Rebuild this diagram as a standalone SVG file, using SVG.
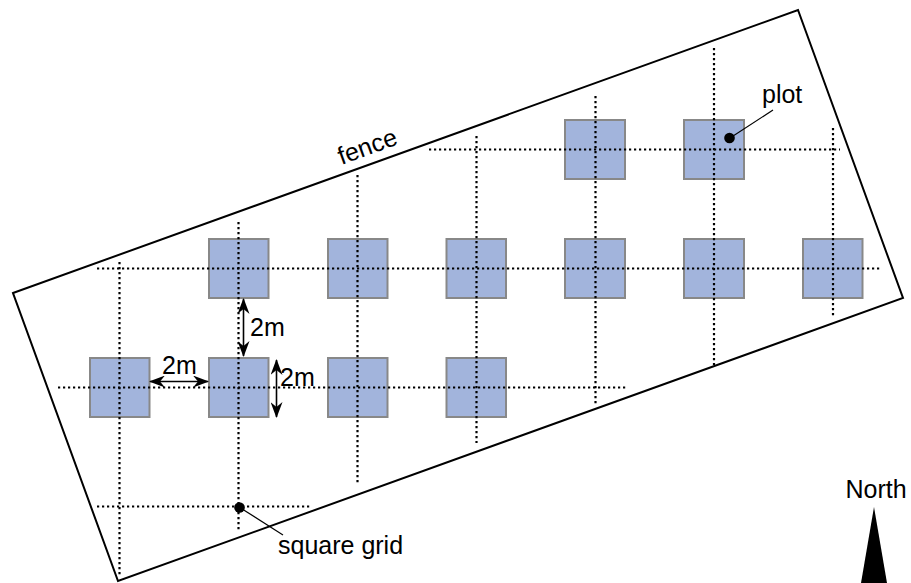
<svg xmlns="http://www.w3.org/2000/svg" width="911" height="583" viewBox="0 0 911 583">
<style>
text{font-family:"Liberation Sans",Arial,sans-serif;font-size:25px;fill:#000}
.plot{fill:#a2b4dc;stroke:#888;stroke-width:2}
.grid{fill:none;stroke:#000;stroke-width:2.2;stroke-dasharray:2.200 2.800}
.lead{fill:none;stroke:#000;stroke-width:1.2}
.dim{fill:none;stroke:#000;stroke-width:1.6;marker-start:url(#h);marker-end:url(#h)}
</style>
<defs>
<marker id="h" viewBox="0 0 16 12" refX="15" refY="6" markerWidth="16" markerHeight="12" markerUnits="userSpaceOnUse" orient="auto-start-reverse"><path d="M0 0L16 6L0 12L5 6Z" fill="#000"/></marker>
</defs>
<g id="fence"><polygon points="13,293 798,10 903,298 118,581" fill="#fff" stroke="#000" stroke-width="2"/></g>
<g id="plots">
<rect class="plot" x="565" y="120" width="60" height="59"/>
<rect class="plot" x="684" y="120" width="60" height="59"/>
<rect class="plot" x="209" y="239" width="59.500" height="59"/>
<rect class="plot" x="328" y="239" width="59.500" height="59"/>
<rect class="plot" x="446.500" y="239" width="59.500" height="59"/>
<rect class="plot" x="565" y="239" width="60" height="59"/>
<rect class="plot" x="684" y="239" width="60" height="59"/>
<rect class="plot" x="803" y="239" width="59.500" height="59"/>
<rect class="plot" x="90" y="358" width="59.500" height="59"/>
<rect class="plot" x="209" y="358" width="59.500" height="59"/>
<rect class="plot" x="328" y="358" width="59.500" height="59"/>
<rect class="plot" x="446.500" y="358" width="59.500" height="59"/>
</g>
<g id="connectors">
<path class="grid" d="M429 149.500H840M97 268.500H881M58 387.500H627M97 506.500H311"/>
<path class="grid" d="M119.500 262V575M238.500 222V530M357.500 175V483M476.500 136V443M595.500 96V404M714 48V365M833 128V318"/>
<path class="dim" d="M150 381.500H208"/>
<path class="dim" d="M243.500 299V356"/>
<path class="dim" d="M276.500 360V417"/>
<path class="lead" d="M730 138L773 110"/>
<path class="lead" d="M239 507L283 535"/>
</g>
<g id="plot-marker"><circle cx="729.500" cy="138" r="5.300"/><text x="762" y="102.500">plot</text></g>
<g id="grid-marker"><circle cx="239.500" cy="507.500" r="5.300"/><text x="278" y="554">square grid</text></g>
<g id="labels">
<text x="162" y="374">2m</text>
<text x="250" y="335.500">2m</text>
<text x="280" y="386">2m</text>
<text transform="translate(341.500 165) rotate(-20)">fence</text>
</g>
<g id="north"><text x="845.500" y="498">North</text><polygon points="874,507 861,583 887,583" fill="#000"/></g>
</svg>
